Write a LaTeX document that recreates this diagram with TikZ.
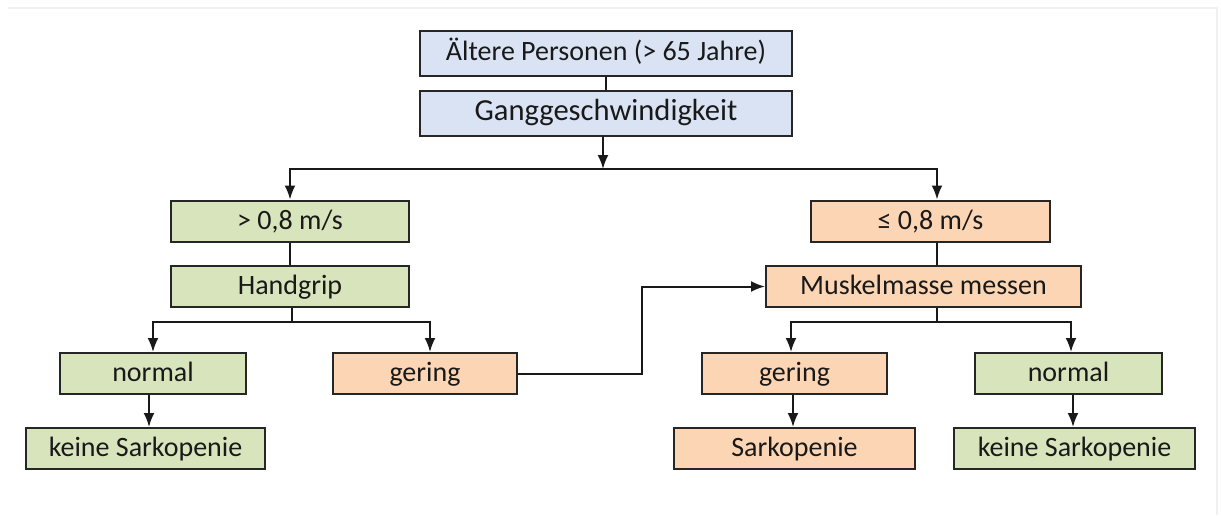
\documentclass[tikz,border=0pt]{standalone}
\usepackage{fontspec}
\setmainfont{Carlito}
\usepackage{xcolor}
\usepackage{tikz}
\usetikzlibrary{arrows.meta}

\definecolor{boxblue}{RGB}{218,227,243}
\definecolor{boxgreen}{RGB}{216,228,188}
\definecolor{boxorange}{RGB}{252,213,181}

\tikzset{
  box/.style={draw=black!85, line width=1pt, inner sep=0pt, minimum height=20.5pt,
    text height=0.95em, text depth=0.15em,
    text=black!90, font=\fontsize{14}{16}\selectfont},
  bluebox/.style={box, fill=boxblue, minimum height=22.5pt, text height=0.85em},
  greenbox/.style={box, fill=boxgreen},
  orangebox/.style={box, fill=boxorange},
  conn/.style={line width=1pt, color=black!90},
  arr/.style={conn, -{Latex[length=7pt,width=5.5pt]}}
}

\begin{document}
\begin{tikzpicture}[x=0.5pt,y=-0.5pt]
\useasboundingbox (0,0) rectangle (1221,515);
\draw[color=black!6, line width=1pt] (8,8) -- (1217,8) -- (1217,515);

% top
\node[bluebox, minimum width=186pt] (alt) at (606,53.5) {Ältere Personen (> 65 Jahre)};
\node[bluebox, minimum width=186pt, font=\fontsize{15.3}{17}\selectfont] (gang) at (606,113) {Ganggeschwindigkeit};

% left branch
\node[greenbox, minimum width=119pt] (fast) at (290,221) {> 0,8 m/s};
\node[greenbox, minimum width=119pt] (hand) at (290,286) {Handgrip};
\node[greenbox, minimum width=93pt] (norm1) at (153,373.5) {normal};
\node[greenbox, minimum width=119.5pt] (keine1) at (145.5,448.5) {keine Sarkopenie};
\node[orangebox, minimum width=92pt] (ger1) at (425,373.5) {gering};

% right branch
\node[orangebox, minimum width=119.5pt] (slow) at (930.5,221) {≤ 0,8 m/s};
\node[orangebox, minimum width=157.5pt] (muskel) at (923.5,286.5) {Muskelmasse messen};
\node[orangebox, minimum width=92.5pt] (ger2) at (794.5,373.5) {gering};
\node[orangebox, minimum width=120.5pt] (sark) at (794.5,448.5) {Sarkopenie};
\node[greenbox, minimum width=93.5pt] (norm2) at (1068.5,373.5) {normal};
\node[greenbox, minimum width=120.5pt] (keine2) at (1074.5,448.5) {keine Sarkopenie};

% junctions
\coordinate (j1) at (603,169);
\coordinate (j2) at (292,322);
\coordinate (j3) at (937,322);
\coordinate (b1) at (642,373.5);

% connectors
\draw[conn] (alt) -- (gang);
\draw[arr] (gang.south -| j1) -- (j1);
\draw[arr] (j1) -| (fast.north);
\draw[arr] (j1) -| (slow.north -| j3);
\draw[conn] (fast) -- (hand);
\draw[conn] (hand.south -| j2) -- (j2);
\draw[arr] (j2) -| (norm1.north);
\draw[arr] (j2) -| (ger1.north -| 430,0);
\draw[arr] (norm1.south -| 149,0) -- (keine1.north -| 149,0);
\draw[arr] (ger1.east) -- (b1) |- (muskel.west);
\draw[conn] (slow.south -| j3) -- (muskel.north -| j3);
\draw[conn] (muskel.south -| j3) -- (j3);
\draw[arr] (j3) -| (ger2.north -| 791,0);
\draw[arr] (j3) -| (norm2.north -| 1071,0);
\draw[arr] (ger2.south -| 793,0) -- (sark.north -| 793,0);
\draw[arr] (norm2.south -| 1073,0) -- (keine2.north -| 1073,0);
\end{tikzpicture}
\end{document}
